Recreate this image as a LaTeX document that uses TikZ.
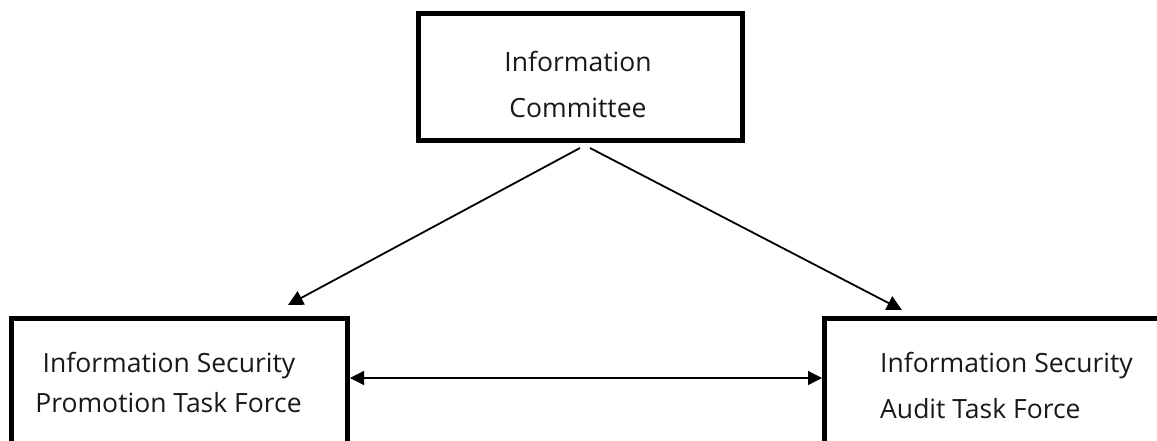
\documentclass[tikz,border=0pt]{standalone}
\usepackage{fontspec}
\setmainfont{Open Sans}
\usetikzlibrary{arrows.meta}
\begin{document}
\begin{tikzpicture}[x=1pt,y=-1pt,
  boxnode/.style={draw=black,line width=5pt,rectangle,inner sep=0pt},
  lbl/.style={font=\fontsize{26.5}{32}\selectfont,inner sep=0pt,text=black!90},
  conn/.style={line width=1.8pt,-{Triangle[length=15pt,width=15pt]}},
  dconn/.style={line width=1.3pt,{Triangle[length=14pt,width=14pt]}-{Triangle[length=14pt,width=14pt]}}]
\useasboundingbox[fill=white] (0,0) rectangle (1157,441);
% boxes
\node[boxnode,minimum width=324pt,minimum height=127pt] (top) at (580.5,77) {};
\node[boxnode,minimum width=336pt,minimum height=150pt] (lbox) at (179.5,393) {};
\node[boxnode,minimum width=343pt,minimum height=150pt] (rbox) at (996,393) {};
% texts
\node[lbl,anchor=base] (t1) at (578,72) {Information};
\node[lbl,anchor=base] (t2) at (578,118) {Committee};
\node[lbl,anchor=base] (l1) at (169,372) {Information Security};
\node[lbl,anchor=base] (l2) at (168.5,412) {Promotion Task Force};
\node[lbl,anchor=base west] (r1) at (880,372) {Information Security};
\node[lbl,anchor=base west] (r2) at (880,418) {Audit Task Force};
% connectors
\draw[conn] ([xshift=-0.5pt,yshift=-5pt]top.south) -- ([xshift=108.5pt,yshift=10.5pt]lbox.north);
\draw[conn] ([xshift=9.5pt,yshift=-5pt]top.south) -- ([xshift=-94pt,yshift=5.5pt]rbox.north);
\draw[dconn] ([yshift=15pt]lbox.east) -- ([yshift=15pt]rbox.west);
\end{tikzpicture}
\end{document}
